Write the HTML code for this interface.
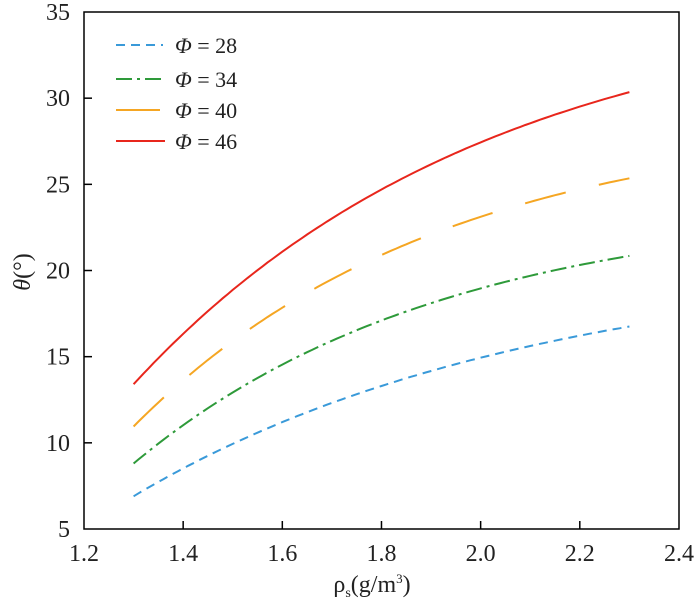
<!DOCTYPE html>
<html><head><style>
body{margin:0;background:#fff}
svg{display:block}
text{font-family:"Liberation Serif","Times New Roman",serif}
</style></head><body>
<svg id="s" width="700" height="601" viewBox="0 0 700 601" font-family="Liberation Serif, serif">
<rect x="84" y="12" width="595" height="517" fill="none" stroke="#000" stroke-width="1.5"/>
<g id="ticks" stroke="#000" stroke-width="1.5"></g>
<g id="labels" font-size="24" fill="#222"></g>
<g id="curves" fill="none" stroke-width="2"></g>
<g font-size="22" fill="#222">
<line x1="116" y1="45" x2="163" y2="45" stroke="#3a9ad9" stroke-width="2" stroke-dasharray="9,6"/>
<text x="175" y="53"><tspan font-style="italic">Φ</tspan> = 28</text>
<line x1="116" y1="79" x2="165" y2="79" stroke="#2e9a3a" stroke-width="2" stroke-dasharray="16,5,3,5"/>
<text x="175" y="87"><tspan font-style="italic">Φ</tspan> = 34</text>
<line x1="116" y1="110" x2="160" y2="110" stroke="#f5a623" stroke-width="2"/>
<text x="175" y="118"><tspan font-style="italic">Φ</tspan> = 40</text>
<line x1="116" y1="141" x2="165" y2="141" stroke="#e8261c" stroke-width="2"/>
<text x="175" y="149"><tspan font-style="italic">Φ</tspan> = 46</text>
</g>
<text x="372" y="592" font-size="24" text-anchor="middle" fill="#222">ρ<tspan font-size="14" dy="5">s</tspan><tspan dy="-5">(g/m</tspan><tspan font-size="13" dy="-9">3</tspan><tspan dy="9">)</tspan></text>
<text transform="translate(30,272) rotate(-90)" font-size="24" text-anchor="middle" fill="#222"><tspan font-style="italic">θ</tspan>(°)</text>
</svg>
<script>
var X=function(v){return 84+(v-1.2)*495.8},Y=function(v){return 529-(v-5)*17.233};
var t=document.getElementById('ticks'),l=document.getElementById('labels'),c=document.getElementById('curves');
var ns='http://www.w3.org/2000/svg';
function el(p,n,a,txt){var e=document.createElementNS(ns,n);for(var k in a)e.setAttribute(k,a[k]);if(txt)e.textContent=txt;p.appendChild(e);return e;}
for(var i=0;i<=6;i++){var v=1.2+i*0.2,x=X(v);if(i>0&&i<6)el(t,'line',{x1:x,y1:529,x2:x,y2:521});el(l,'text',{x:x,y:561,'text-anchor':'middle'},v.toFixed(1));}
for(var v=5;v<=35;v+=5){var y=Y(v);if(v>5&&v<35)el(t,'line',{x1:84,y1:y,x2:92,y2:y});el(l,'text',{x:70,y:y+8,'text-anchor':'end'},String(v));}
var S=[[6.9,13.3,16.75,'#3a9ad9','9,6'],[8.8,17.1,20.85,'#2e9a3a','16,5,3,5'],[10.95,20.9,25.35,'#f5a623','42,34'],[13.4,24.7,30.35,'#e8261c','']];
S.forEach(function(s){
 var r=(s[2]-s[1])/(s[1]-s[0]),B=(s[1]-s[0])/(1-r),A=s[0]+B,k=-2*Math.log(r),d='';
 for(var i=0;i<=100;i++){var tt=i/100,xv=1.3+tt,yv=A-B*Math.exp(-k*tt);d+=(i?'L':'M')+X(xv).toFixed(1)+','+Y(yv).toFixed(1);}
 var at={d:d,stroke:s[3]};if(s[4])at['stroke-dasharray']=s[4];el(c,'path',at);});
</script>
</body></html>
